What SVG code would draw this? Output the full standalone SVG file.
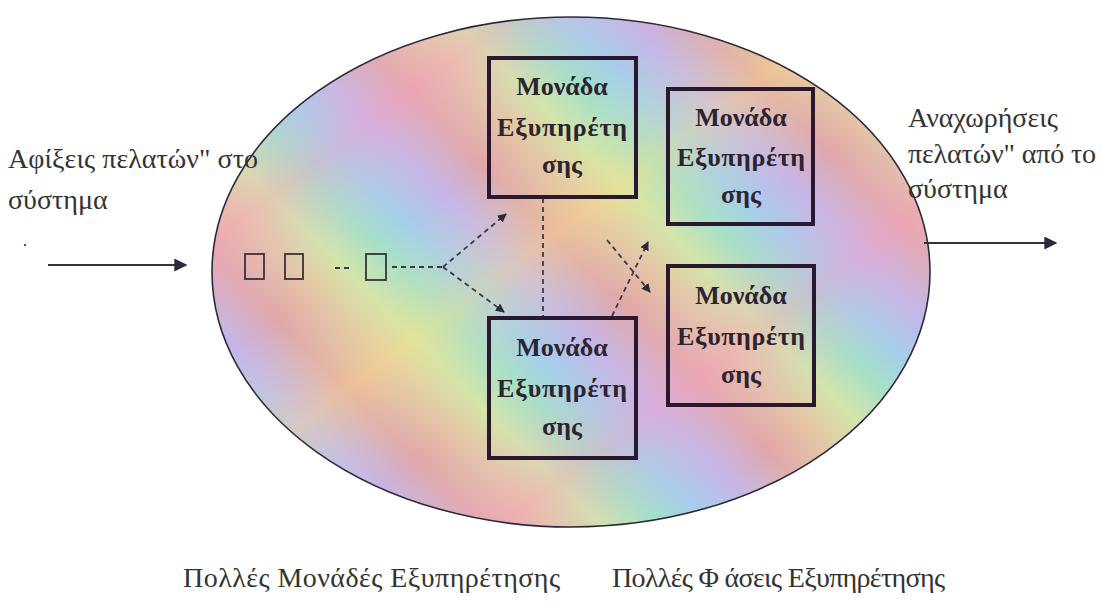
<svg xmlns="http://www.w3.org/2000/svg" width="1101" height="602" viewBox="0 0 1101 602">
<defs>
<linearGradient id="rainbow" gradientUnits="userSpaceOnUse" x1="320" y1="360" x2="500" y2="180" spreadMethod="repeat">
<stop offset="0" stop-color="#e8a0a0"/>
<stop offset="0.18" stop-color="#ecc49c"/>
<stop offset="0.32" stop-color="#d8e6a0"/>
<stop offset="0.48" stop-color="#a4e0c4"/>
<stop offset="0.62" stop-color="#a4cceb"/>
<stop offset="0.8" stop-color="#c8b0e8"/>
<stop offset="1" stop-color="#e8a0a0"/>
</linearGradient>
<linearGradient id="rainbow2" gradientUnits="userSpaceOnUse" x1="400" y1="100" x2="520" y2="260" spreadMethod="reflect">
<stop offset="0" stop-color="#f0a8c8" stop-opacity="0.45"/>
<stop offset="0.5" stop-color="#b0e0e8" stop-opacity="0.1"/>
<stop offset="1" stop-color="#f0e090" stop-opacity="0.45"/>
</linearGradient>
<marker id="arr" viewBox="0 0 10 10" refX="9" refY="5" markerWidth="9" markerHeight="9" orient="auto" markerUnits="userSpaceOnUse">
<path d="M0,0 L10,5 L0,10 z" fill="#2a2a3a"/>
</marker>
<marker id="arrBig" viewBox="0 0 10 10" refX="9" refY="5" markerWidth="13" markerHeight="13" orient="auto" markerUnits="userSpaceOnUse">
<path d="M0,0 L10,5 L0,10 z" fill="#2a2a3a"/>
</marker>
<style>
.lbl{font-family:"Liberation Serif","DejaVu Serif",serif;font-size:28px;fill:#333}
.box{fill:none;stroke:#2a1830;stroke-width:4}
.bt{font-family:"Liberation Serif","DejaVu Serif",serif;font-size:26px;font-weight:bold;fill:#2e2430;text-anchor:middle}
.sq{fill:none;stroke:#3a3040;stroke-width:1.8}
.dash{fill:none;stroke:#3a3a4a;stroke-width:1.8;stroke-dasharray:5 4}
.solid{fill:none;stroke:#333;stroke-width:1.8}
</style>
</defs>
<rect width="1101" height="602" fill="#ffffff"/>
<g id="system">
<ellipse cx="571" cy="272" rx="359" ry="255" fill="url(#rainbow)"/>
<ellipse cx="571" cy="272" rx="359" ry="255" fill="url(#rainbow2)" stroke="#2a2a3a" stroke-width="1.6"/>
</g>
<g id="queue">
<rect class="sq" x="245" y="254" width="19" height="25"/>
<rect class="sq" x="285" y="254" width="18" height="25"/>
<rect class="sq" x="366" y="254" width="20" height="26"/>
</g>
<g id="connectors">
<line class="solid" x1="48" y1="265" x2="186" y2="265" marker-end="url(#arrBig)"/>
<line class="solid" x1="924" y1="243" x2="1056" y2="243" marker-end="url(#arrBig)"/>
<line class="dash" x1="335" y1="268" x2="349" y2="268"/>
<line class="dash" x1="392" y1="267" x2="443" y2="267"/>
<line class="dash" x1="443" y1="267" x2="506" y2="214" marker-end="url(#arr)"/>
<line class="dash" x1="443" y1="267" x2="504" y2="312" marker-end="url(#arr)"/>
<line class="dash" x1="543" y1="198" x2="543" y2="317" stroke-dasharray="3 3"/>
<line class="dash" x1="607" y1="240" x2="650" y2="292" marker-end="url(#arr)"/>
<line class="dash" x1="612" y1="316" x2="648" y2="242" marker-end="url(#arr)"/>
</g>
<g id="server1">
<rect class="box" x="489" y="58" width="147" height="139"/>
<text class="bt" x="562" y="95">Μονάδα</text>
<text class="bt" x="562" y="136" textLength="130" lengthAdjust="spacing">Εξυπηρέτη</text>
<text class="bt" x="562" y="173">σης</text>
</g>
<g id="server2">
<rect class="box" x="489" y="318" width="147" height="140"/>
<text class="bt" x="562" y="356">Μονάδα</text>
<text class="bt" x="562" y="397" textLength="130" lengthAdjust="spacing">Εξυπηρέτη</text>
<text class="bt" x="562" y="435">σης</text>
</g>
<g id="server3">
<rect class="box" x="668" y="89" width="145" height="135"/>
<text class="bt" x="741" y="126">Μονάδα</text>
<text class="bt" x="741" y="166" textLength="128" lengthAdjust="spacing">Εξυπηρέτη</text>
<text class="bt" x="741" y="203">σης</text>
</g>
<g id="server4">
<rect class="box" x="668" y="266" width="146" height="139"/>
<text class="bt" x="741" y="304">Μονάδα</text>
<text class="bt" x="741" y="345" textLength="128" lengthAdjust="spacing">Εξυπηρέτη</text>
<text class="bt" x="741" y="383">σης</text>
</g>
<g id="labels">
<text class="lbl" x="8" y="168" textLength="250" lengthAdjust="spacing">Αφίξεις πελατών" στο</text>
<text class="lbl" x="8" y="209">σύστημα</text>
<circle cx="25" cy="245" r="1.2" fill="#555"/>
<text class="lbl" x="908" y="127">Αναχωρήσεις</text>
<text class="lbl" x="908" y="163" textLength="188" lengthAdjust="spacing">πελατών" από το</text>
<text class="lbl" x="908" y="198">σύστημα</text>
<text class="lbl" x="183" y="587" textLength="377" lengthAdjust="spacing">Πολλές Μονάδές Εξυπηρέτησης</text>
<text class="lbl" x="612" y="587" textLength="333" lengthAdjust="spacing">Πολλές Φ άσεις Εξυπηρέτησης</text>
</g>
</svg>
